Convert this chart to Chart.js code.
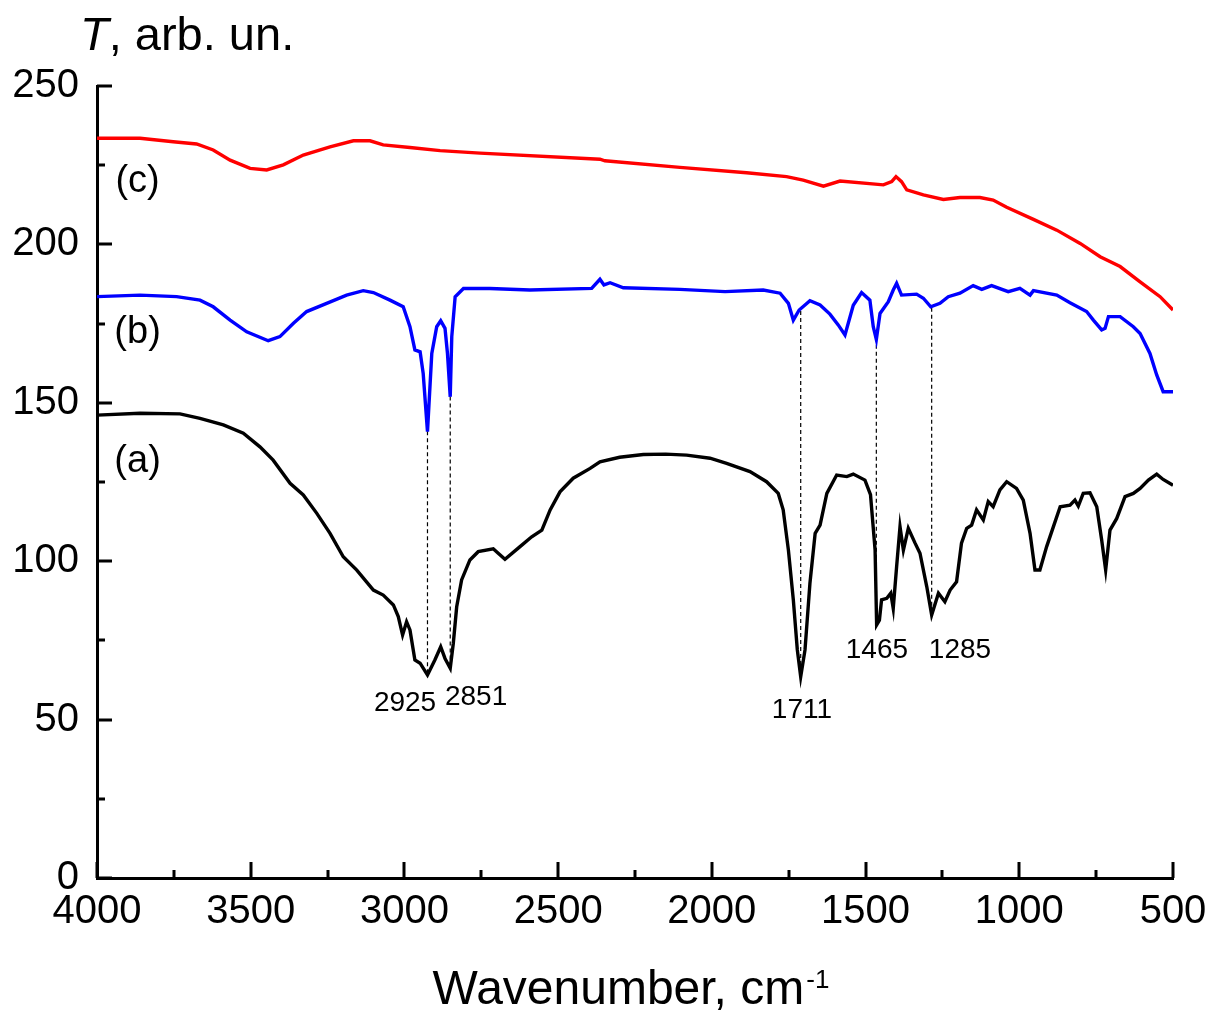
<!DOCTYPE html>
<html>
<head>
<meta charset="utf-8">
<title>FTIR spectra</title>
<script src="https://cdn.jsdelivr.net/npm/chart.js@4.4.0/dist/chart.umd.min.js"></script>
<style>
  html, body { margin: 0; padding: 0; background: #fff; }
</style>
</head>
<body>
<canvas id="myChart" width="1209" height="1011"></canvas>
<script>
// spectrum (a) - black
var wnA = [4000, 3860, 3730, 3665, 3589, 3524, 3470, 3427, 3372, 3329,
           3285, 3242, 3199, 3155, 3101, 3069, 3036, 3020, 3006, 2993,
           2982, 2966, 2949, 2925, 2901, 2882, 2868, 2851, 2841, 2830,
           2814, 2787, 2760, 2711, 2695, 2673, 2624, 2586, 2553, 2526,
           2494, 2451, 2396, 2364, 2300, 2223, 2150, 2082, 2006, 1952,
           1876, 1822, 1784, 1768, 1751, 1735, 1722, 1711, 1697, 1681,
           1664, 1648, 1626, 1594, 1561, 1540, 1502, 1484, 1469, 1464,
           1455, 1448, 1431, 1418, 1410, 1399, 1388, 1377, 1361, 1339,
           1323, 1301, 1285, 1263, 1242, 1225, 1204, 1188, 1171, 1155,
           1139, 1117, 1101, 1085, 1063, 1041, 1009, 987, 965, 949,
           933, 911, 889, 867, 835, 819, 808, 792, 770, 748,
           732, 719, 705, 683, 656, 629, 607, 580, 553, 532,
           500];
var tA = [146.1, 146.7, 146.5, 145.1, 143.0, 140.4, 136.1, 131.9, 124.6, 120.9,
          115.1, 108.8, 101.4, 97.2, 90.9, 89.3, 86.2, 82.5, 76.7, 80.9,
          78.3, 68.8, 67.8, 64.1, 68.8, 73.0, 69.3, 66.2, 74.1, 85.6,
          94.1, 100.4, 103.0, 103.9, 102.5, 100.6, 104.6, 107.7, 109.8, 116.2,
          121.9, 126.2, 129.3, 131.4, 132.8, 133.7, 133.8, 133.5, 132.5, 130.9,
          128.3, 125.1, 121.4, 116.2, 103.5, 87.8, 72.0, 63.5, 72.0, 93.0,
          108.8, 111.4, 121.4, 127.2, 126.7, 127.5, 125.6, 121.0, 103.5, 79.9,
          81.4, 87.8, 88.3, 89.9, 85.1, 98.3, 110.9, 103.5, 110.4, 105.7,
          102.5, 92.0, 83.0, 89.9, 87.2, 90.9, 93.5, 105.7, 110.4, 111.4,
          116.2, 113.0, 118.8, 117.2, 122.5, 125.1, 123.0, 119.3, 108.8, 97.2,
          97.2, 104.6, 110.9, 117.2, 117.7, 119.3, 117.4, 121.4, 121.6, 117.2,
          106.7, 97.2, 109.8, 113.5, 120.4, 121.4, 123.0, 125.6, 127.5, 125.8,
          124.0];

// spectrum (b) - blue
var wnB = [4000, 3860, 3741, 3665, 3622, 3567, 3513, 3443, 3405, 3361,
           3318, 3253, 3188, 3134, 3101, 3047, 3004, 2982, 2966, 2949,
           2939, 2925, 2911, 2895, 2882, 2868, 2860, 2851, 2846, 2835,
           2808, 2722, 2592, 2391, 2364, 2351, 2331, 2288, 2104, 1957,
           1833, 1778, 1751, 1735, 1716, 1681, 1648, 1616, 1589, 1567,
           1540, 1513, 1486, 1475, 1465, 1453, 1426, 1410, 1399, 1383,
           1334, 1312, 1288, 1258, 1231, 1193, 1150, 1122, 1090, 1036,
           998, 965, 954, 878, 835, 781, 759, 732, 721, 710,
           672, 629, 607, 575, 553, 532, 500];
var tB = [183.5, 184.0, 183.5, 182.4, 180.3, 176.1, 172.4, 169.6, 170.9, 175.1,
          178.8, 181.4, 184.0, 185.4, 184.8, 182.4, 180.3, 174.0, 166.7, 166.1,
          159.3, 140.9, 165.6, 174.0, 175.9, 173.5, 165.6, 151.9, 170.9, 183.5,
          186.1, 186.1, 185.6, 186.1, 189.0, 187.2, 187.9, 186.3, 185.8, 185.1,
          185.6, 184.6, 181.4, 176.1, 179.3, 182.2, 180.9, 178.0, 174.6, 171.4,
          180.8, 184.8, 182.4, 174.0, 170.0, 178.2, 181.9, 185.6, 187.7, 184.0,
          184.3, 183.0, 180.3, 181.4, 183.5, 184.6, 187.0, 185.8, 187.0, 185.1,
          186.1, 184.0, 185.4, 184.0, 181.6, 178.8, 176.1, 173.0, 173.5, 177.2,
          177.2, 174.0, 171.9, 165.6, 158.8, 153.5, 153.5];

// spectrum (c) - red
var wnC = [4000, 3860, 3752, 3676, 3622, 3567, 3502, 3448, 3394, 3329,
           3242, 3166, 3112, 3069, 2982, 2884, 2754, 2364, 2348, 2104,
           1887, 1757, 1703, 1637, 1583, 1442, 1415, 1401, 1383, 1366,
           1312, 1247, 1193, 1128, 1085, 1041, 954, 878, 802, 737,
           672, 607, 542, 500];
var tC = [233.5, 233.5, 232.4, 231.7, 229.8, 226.6, 224.0, 223.5, 225.1, 228.2,
          230.8, 232.7, 232.7, 231.4, 230.6, 229.6, 228.8, 226.9, 226.4, 224.3,
          222.6, 221.4, 220.3, 218.4, 220.0, 218.8, 219.8, 221.4, 219.8, 217.2,
          215.6, 214.2, 214.8, 214.8, 214.0, 211.7, 207.9, 204.5, 200.3, 196.1,
          193.0, 188.2, 183.5, 179.3];

// marked bands: dashed line runs from curve (b) down to curve (a)
var peaks = [2925, 2851, 1711, 1465, 1285];
var peakTop = [141, 152, 179, 170.5, 180];
var peakBottom = [64, 66, 63.5, 80, 83];

var curveNames = ['(a)', '(b)', '(c)'];

var xTicks = [500, 1000, 1500, 2000, 2500, 3000, 3500, 4000];
var yTicks = [0, 50, 100, 150, 200, 250];

// where the text goes (data units)
var curveNameX = 3868;
var curveNameY = [131.6, 172.3, 219.9];
var peakLabelX = [2998, 2767, 1707, 1463, 1193];
var peakLabelY = [55.2, 57.1, 53.0, 72.0, 72.0];

var FONT = "'Liberation Sans', Arial, sans-serif";
Chart.defaults.font.family = FONT;
Chart.defaults.color = '#000';

function pts(xs, ys) {
  return xs.map(function (v, i) { return { x: v, y: ys[i] }; });
}

var datasets = [
  { label: 'a', data: pts(wnA, tA), borderColor: '#000000', borderWidth: 3.4 },
  { label: 'b', data: pts(wnB, tB), borderColor: '#0000ff', borderWidth: 3.4 },
  { label: 'c', data: pts(wnC, tC), borderColor: '#ff0000', borderWidth: 3.4 }
];
peaks.forEach(function (p, i) {
  datasets.push({
    label: 'peak ' + p,
    data: [{ x: p, y: peakTop[i] }, { x: p, y: peakBottom[i] }],
    borderColor: '#000',
    borderWidth: 1.2,
    borderDash: [4, 3]
  });
});

var inTicks = {
  id: 'inTicks',
  afterDraw: function (chart) {
    var ctx = chart.ctx, area = chart.chartArea;
    var x = chart.scales.x, y = chart.scales.y;
    ctx.save();
    ctx.strokeStyle = '#000';
    ctx.lineWidth = 3;
    ctx.beginPath();
    for (var v = 500; v <= 4000; v += 250) {
      var px = Math.round(x.getPixelForValue(v));
      var len = (v % 500 === 0) ? 16 : 8;
      ctx.moveTo(px, area.bottom);
      ctx.lineTo(px, area.bottom - len);
    }
    for (var w = 0; w <= 250; w += 25) {
      var py = Math.round(y.getPixelForValue(w));
      var l2 = (w % 50 === 0) ? 15 : 8;
      ctx.moveTo(area.left, py);
      ctx.lineTo(area.left + l2, py);
    }
    ctx.stroke();
    ctx.restore();
  }
};

var texts = {
  id: 'texts',
  afterDraw: function (chart) {
    var ctx = chart.ctx;
    var x = chart.scales.x, y = chart.scales.y;
    ctx.save();
    ctx.fillStyle = '#000';
    ctx.textAlign = 'center';
    ctx.textBaseline = 'middle';

    ctx.font = '38px ' + FONT;
    curveNames.forEach(function (n, i) {
      ctx.fillText(n, x.getPixelForValue(curveNameX), y.getPixelForValue(curveNameY[i]));
    });

    ctx.font = '28px ' + FONT;
    peaks.forEach(function (p, i) {
      ctx.fillText(String(p), x.getPixelForValue(peakLabelX[i]), y.getPixelForValue(peakLabelY[i]));
    });

    // y title
    ctx.textAlign = 'left';
    ctx.textBaseline = 'alphabetic';
    ctx.font = 'italic 47px ' + FONT;
    ctx.fillText('T', 80, 50);
    var tw = ctx.measureText('T').width;
    ctx.font = '47px ' + FONT;
    ctx.fillText(', arb. un.', 80 + tw, 50);

    // x title with superscript
    ctx.font = '48px ' + FONT;
    var main = 'Wavenumber, cm';
    var mw = ctx.measureText(main).width;
    ctx.font = '26px ' + FONT;
    var sw = ctx.measureText('-1').width;
    var cx = (chart.chartArea.left + chart.chartArea.right) / 2 - 4;
    var x0 = cx - (mw + sw + 2) / 2;
    ctx.font = '48px ' + FONT;
    ctx.fillText(main, x0, 1004);
    ctx.font = '26px ' + FONT;
    ctx.fillText('-1', x0 + mw + 2, 988);
    ctx.restore();
  }
};

var myChart = new Chart(document.getElementById('myChart'), {
  type: 'line',
  data: { datasets: datasets },
  options: {
    responsive: false,
    animation: false,
    elements: { point: { radius: 0 }, line: { tension: 0 } },
    layout: { padding: { top: 86, right: 36, left: 0, bottom: 0 } },
    plugins: { legend: { display: false }, tooltip: { enabled: false } },
    scales: {
      x: {
        type: 'linear',
        reverse: true,
        min: 500,
        max: 4000,
        afterBuildTicks: function (s) { s.ticks = xTicks.map(function (v) { return { value: v }; }); },
        ticks: {
          font: { size: 40 }, color: '#000', padding: 10, maxRotation: 0, autoSkip: false,
          callback: function (v) { return String(v); }
        },
        grid: { display: false, drawTicks: false },
        border: { display: true, width: 3, color: '#000' },
        afterFit: function (s) { s.height = 133; s.paddingLeft = 0; s.paddingRight = 0; }
      },
      y: {
        type: 'linear',
        min: 0,
        max: 250,
        afterBuildTicks: function (s) { s.ticks = yTicks.map(function (v) { return { value: v }; }); },
        ticks: {
          font: { size: 40 }, color: '#000', padding: 18,
          callback: function (v) { return String(v); }
        },
        grid: { display: false, drawTicks: false },
        border: { display: true, width: 3, color: '#000' },
        afterFit: function (s) { s.width = 97; s.paddingTop = 0; s.paddingBottom = 0; }
      }
    }
  },
  plugins: [inTicks, texts]
});
</script>
</body>
</html>
